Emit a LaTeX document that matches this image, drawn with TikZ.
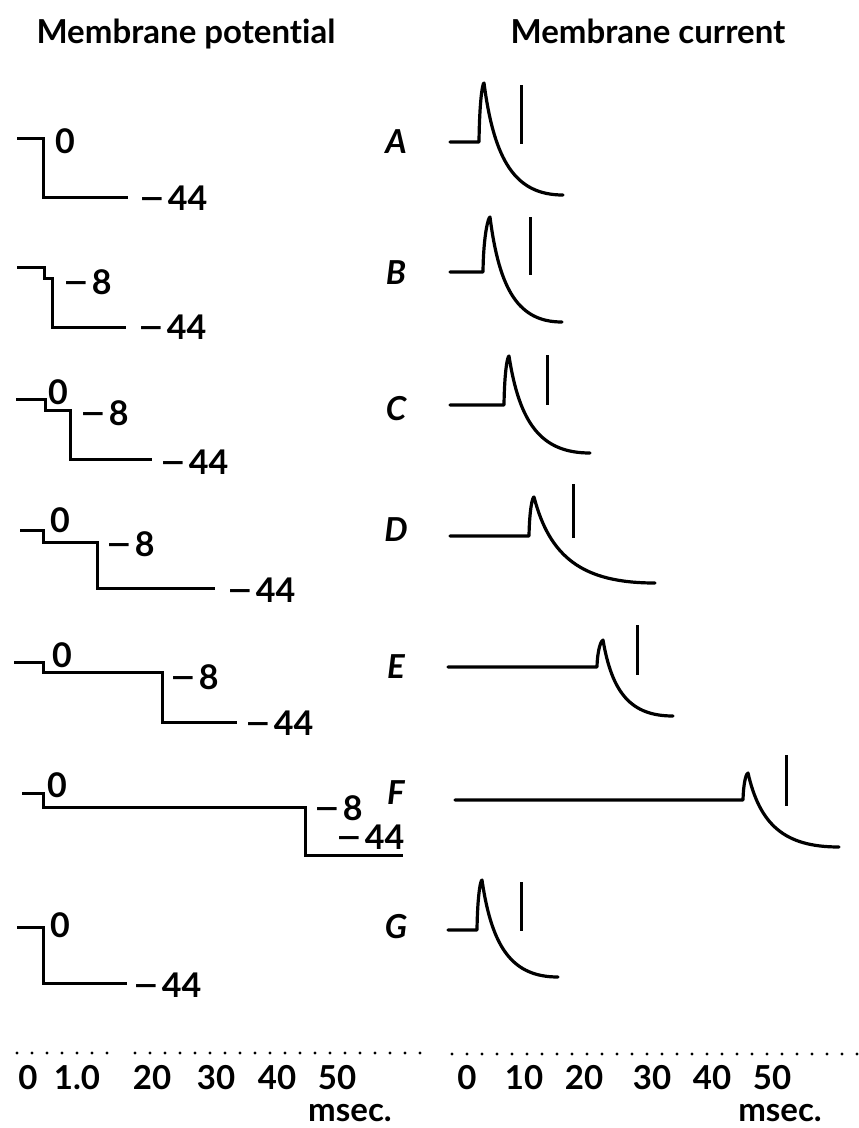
\documentclass[tikz,border=0pt]{standalone}
\usepackage{fontspec}
\setmainfont{Lato}[Ligatures=NoCommon]
\begin{document}
\begin{tikzpicture}[x=1pt,y=-1pt,
  trace/.style={line width=3.2pt,line cap=round,line join=round},
  stepline/.style={line width=3pt,line join=miter},
  tickmark/.style={line width=3pt},
  lbl/.style={anchor=west,inner sep=0pt,font=\fontsize{34}{34}\selectfont\bfseries},
  letter/.style={inner sep=0pt,font=\fontsize{33}{33}\selectfont\bfseries\itshape},
  title/.style={inner sep=0pt,anchor=base,font=\fontsize{33}{33}\selectfont\bfseries},
  axnum/.style={inner sep=0pt,font=\fontsize{33}{33}\selectfont\bfseries},
  dotline/.style={line width=3.4pt,line cap=round,dash pattern=on 0pt off 15pt}]
\useasboundingbox (0,0) rectangle (859,1128);
\newcommand\cutrace[7]{%
  \draw[trace] (#1,#2) -- (#3,#2)
    .. controls ({#3+0.5},{#5+0.3*(#2-#5)}) and ({#4-1.5},#5) .. (#4,#5)
    .. controls ({#4+0.13*(#6-#4)},{#7-0.3*(#7-#5)}) and ({#4+0.4*(#6-#4)},#7) .. (#6,#7);}
\newcommand\mneg{\scalebox{1.3}[1]{−}\kern3pt}
% titles
\node[title] (tpot) at (186,43) {Membrane potential};
\node[title] (tcur) at (648,43) {Membrane current};
% row letters
\node[letter] (lA) at (396,142) {A};
\node[letter] (lB) at (396,273) {B};
\node[letter] (lC) at (396,409) {C};
\node[letter] (lD) at (396,530) {D};
\node[letter] (lE) at (396,667) {E};
\node[letter] (lF) at (396,793) {F};
\node[letter] (lG) at (396,927) {G};
% membrane potential steps
\draw[stepline] (17,138) -- (43,138) -- (43,197) -- (128,197);
\node[lbl] (a0) at (55,141) {0};
\node[lbl] (a44) at (139,198) {\mneg 44};
\draw[stepline] (17,267) -- (44,267) -- (44,278) -- (52,278) -- (52,327) -- (126,327);
\node[lbl] (b8) at (63,282) {\mneg 8};
\node[lbl] (b44) at (138,327) {\mneg 44};
\draw[stepline] (16,399) -- (45,399) -- (45,410) -- (70,410) -- (70,459) -- (152,459);
\node[lbl] (c0) at (48,392) {0};
\node[lbl] (c8) at (80,413) {\mneg 8};
\node[lbl] (c44) at (160,462) {\mneg 44};
\draw[stepline] (20,530) -- (43,530) -- (43,542) -- (97,542) -- (97,588) -- (215,588);
\node[lbl] (d0) at (50,520) {0};
\node[lbl] (d8) at (106,544) {\mneg 8};
\node[lbl] (d44) at (227,590) {\mneg 44};
\draw[stepline] (14,662) -- (43,662) -- (43,672) -- (162,672) -- (162,722) -- (237,722);
\node[lbl] (e0) at (52,655) {0};
\node[lbl] (e8) at (170,677) {\mneg 8};
\node[lbl] (e44) at (245,723) {\mneg 44};
\draw[stepline] (22,793) -- (43,793) -- (43,807) -- (305,807) -- (305,855) -- (403,855);
\node[lbl] (f0) at (47,785) {0};
\node[lbl] (f8) at (314,808) {\mneg 8};
\node[lbl] (f44) at (336,837) {\mneg 44};
\draw[stepline] (17,927) -- (43,927) -- (43,983) -- (127,983);
\node[lbl] (g0) at (50,925) {0};
\node[lbl] (g44) at (133,985) {\mneg 44};
% membrane current traces
\cutrace{450}{142}{479}{484}{83}{563}{195}
\draw[tickmark] (521,85) -- (521,144);
\cutrace{450}{272}{483}{490}{217}{562}{322}
\draw[tickmark] (530,217) -- (530,275);
\cutrace{450}{405}{504}{509}{356}{590}{453}
\draw[tickmark] (547,355) -- (547,405);
\cutrace{450}{536}{529}{534}{497}{655}{583}
\draw[tickmark] (573,484) -- (573,538);
\cutrace{448}{667}{597}{603}{640}{673}{716}
\draw[tickmark] (637,625) -- (637,675);
\cutrace{455}{800}{743}{748}{773}{839}{847}
\draw[tickmark] (786,755) -- (786,806);
\cutrace{448}{930}{477}{482}{880}{558}{977}
\draw[tickmark] (521,882) -- (521,931);
% time axes
\draw[dotline] (17,1053) -- (115,1053);
\draw[dotline] (135,1053) -- (430,1053);
\draw[dotline] (452,1054) -- (859,1054);
\node[axnum] (L0) at (28,1078) {0};
\node[axnum] (L10) at (77,1078) {1.0};
\node[axnum] (L20) at (152,1078) {20};
\node[axnum] (L30) at (216,1078) {30};
\node[axnum] (L40) at (277,1078) {40};
\node[axnum] (L50) at (337,1078) {50};
\node[axnum] (Lms) at (350,1113) {msec.};
\node[axnum] (R0) at (467,1078) {0};
\node[axnum] (R10) at (524,1078) {10};
\node[axnum] (R20) at (584,1078) {20};
\node[axnum] (R30) at (652,1078) {30};
\node[axnum] (R40) at (712,1078) {40};
\node[axnum] (R50) at (772,1078) {50};
\node[axnum] (Rms) at (780,1113) {msec.};
\end{tikzpicture}
\end{document}
